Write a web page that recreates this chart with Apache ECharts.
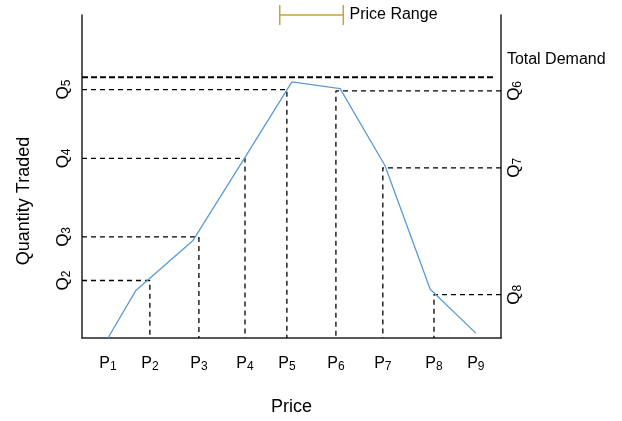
<!DOCTYPE html>
<html>
<head>
<meta charset="utf-8">
<script src="https://cdn.jsdelivr.net/npm/echarts@6/dist/echarts.min.js"></script>
<style>html,body{margin:0;padding:0;background:#fff}#c{width:622px;height:421px}</style>
</head>
<body>
<div id="c"></div>
<script>
// Price tick positions (P1..P9) on a 0-100 price scale
const priceLabels = ['P1','P2','P3','P4','P5','P6','P7','P8','P9'];
const priceValues = [6.2, 16.2, 27.9, 38.9, 48.9, 60.6, 71.8, 84.0, 94.0];
// Quantity levels on a 0-100 quantity scale
const leftQLabels = ['Q2','Q3','Q4','Q5'];
const leftQValues = [17.8, 31.3, 55.6, 76.9];
const rightQLabels = ['Q6','Q7','Q8'];
const rightQValues = [76.5, 52.7, 13.4];
// Quantity traded curve (price, quantity)
const curveX = [6.2, 12.9, 26.5, 38.9, 50.1, 61.6, 72.3, 83.1, 94.0];
const curveY = [0, 14.8, 30.2, 55.9, 79.3, 77.2, 53.4, 15.1, 1.5];
// Total demand level
const totalDemand = 80.7;
const totalDemandEnd = 98.3;
// Which price index each Q level drops to
const leftQPriceIdx = [1, 2, 3, 4];
const rightQPriceIdx = [5, 6, 7];

const FONT = 'Liberation Sans, Arial, sans-serif';
function makeRich(size) {
  return {
    b: {fontSize: size, lineHeight: size + 3, fontFamily: FONT, color: '#000'},
    s: {fontSize: 12, lineHeight: 12, fontFamily: FONT, color: '#000', verticalAlign: 'bottom'}
  };
}
function sub(lbl) { return '{b|' + lbl[0] + '}{s|' + lbl.slice(1) + '}'; }
function fmt(values, labels) {
  return function (v) {
    let best = 0, d = 1e9;
    values.forEach((x, i) => { if (Math.abs(x - v) < d) { d = Math.abs(x - v); best = i; } });
    return sub(labels[best]);
  };
}

const dashStyle = {color: '#000', width: 1.3, type: [5, 4]};
const series = [];
leftQValues.forEach((q, i) => {
  const p = priceValues[leftQPriceIdx[i]];
  series.push({type: 'line', data: [[0, q], [p, q], [p, 0]], symbol: 'none', silent: true,
    lineStyle: dashStyle, z: 2});
});
rightQValues.forEach((q, i) => {
  const p = priceValues[rightQPriceIdx[i]];
  series.push({type: 'line', data: [[100, q], [p, q], [p, 0]], symbol: 'none', silent: true,
    lineStyle: dashStyle, z: 2});
});
series.push({type: 'line', name: 'Total Demand', data: [[0, totalDemand], [totalDemandEnd, totalDemand]],
  symbol: 'none', silent: true, lineStyle: {color: '#000', width: 2, type: [6, 3]}, z: 3,
  endLabel: {show: true, formatter: 'Total Demand', fontSize: 16, fontFamily: FONT, color: '#000',
    offset: [5, -18]}});
series.push({type: 'line', name: 'Quantity Traded', data: curveX.map((x, i) => [x, curveY[i]]),
  symbol: 'none', lineStyle: {color: '#5B9BD5', width: 1.3}, z: 4});
series.push({type: 'line', name: 'Price Range', data: [], symbol: 'none', color: '#C9A43A'});

const chart = echarts.init(document.getElementById('c'), null, {renderer: 'canvas'});
chart.setOption({
  animation: false,
  backgroundColor: '#fff',
  grid: {left: 82, right: 121, top: 15, bottom: 82},
  legend: {
    data: [{name: 'Price Range', icon: 'path://M0,0h1.5v20h-1.5z M0,9.25h65v1.5h-65z M63.5,0h1.5v20h-1.5z'}],
    left: 279, top: 5, itemWidth: 66, itemHeight: 20, padding: 0,
    itemStyle: {color: '#C9A43A'},
    textStyle: {fontSize: 16, fontFamily: FONT, color: '#000'}
  },
  xAxis: {
    type: 'value', min: 0, max: 100,
    axisLine: {show: true, onZero: false, lineStyle: {color: '#222', width: 1.5}},
    axisTick: {show: false}, splitLine: {show: false},
    axisLabel: {customValues: priceValues, formatter: fmt(priceValues, priceLabels), rich: makeRich(16), margin: 16},
    name: 'Price', nameLocation: 'middle', nameGap: 60,
    nameTextStyle: {fontSize: 18, fontFamily: FONT, color: '#000'}
  },
  yAxis: [{
    type: 'value', min: 0, max: 100, position: 'left',
    axisLine: {show: true, onZero: false, lineStyle: {color: '#222', width: 1.5}},
    axisTick: {show: false}, splitLine: {show: false},
    axisLabel: {customValues: leftQValues, formatter: fmt(leftQValues, leftQLabels), rich: makeRich(17), rotate: 90, margin: 9}
  }, {
    type: 'value', min: 0, max: 100, position: 'right',
    axisLine: {show: true, onZero: false, lineStyle: {color: '#222', width: 1.5}},
    axisTick: {show: false}, splitLine: {show: false},
    axisLabel: {customValues: rightQValues, formatter: fmt(rightQValues, rightQLabels), rich: makeRich(17), rotate: 90, margin: 3}
  }],
  graphic: [{
    type: 'text', x: 24, y: 201, rotation: Math.PI / 2,
    style: {text: 'Quantity Traded', fontSize: 18, fontFamily: FONT, fill: '#000', align: 'center', verticalAlign: 'middle'}
  }],
  series: series
});
</script>
</body>
</html>
